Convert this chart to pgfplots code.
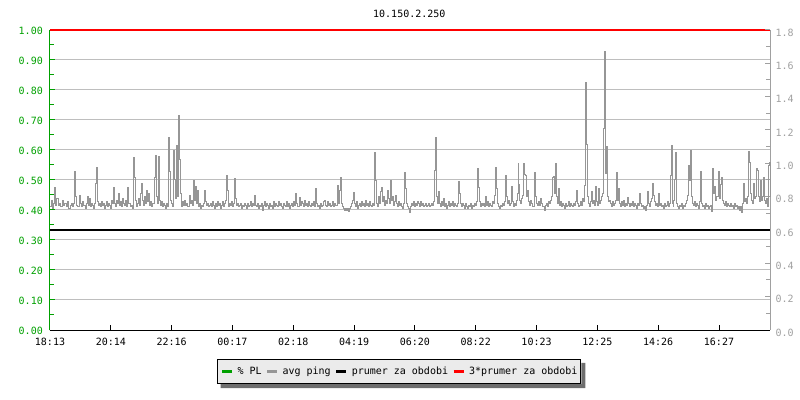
\documentclass[border=0pt]{standalone}
\usepackage{fontspec}
\setmainfont{DejaVu Sans Mono}
\usepackage{pgfplots}
\pgfplotsset{compat=1.18}

\definecolor{plgreen}{HTML}{00A000}
\definecolor{pinggray}{HTML}{969696}
\definecolor{gridgray}{HTML}{BEBEBE}
\definecolor{rightgray}{HTML}{A0A0A0}
\definecolor{legendbg}{HTML}{EBEBEB}
\definecolor{shadowgray}{HTML}{6E6E6E}
\definecolor{limitred}{HTML}{FF0000}

\pgfplotsset{
  rrd/.style={
    scale only axis, width=720bp, height=300bp,
    at={(0,0)}, anchor=south west,
    xmin=0, xmax=1440,
    tick align=inside,
    major tick length=5bp, minor tick length=4bp,
    /pgf/number format/assume math mode=true,
    ticklabel style={font=\fontsize{10bp}{12bp}\selectfont, inner sep=0pt},
  }
}

\begin{document}
\begin{tikzpicture}
% left axis: % PL, grid, time axis, 3*average line (1.0 here = 1.8 on the right axis)
\begin{axis}[rrd,
  ymin=0, ymax=1,
  clip=false,
  axis x line*=bottom, axis y line*=left,
  x axis line style={black, line width=1bp},
  y axis line style={plgreen, line width=1bp},
  xtick={0,121.64,243.27,364.91,486.55,608.18,729.82,851.45,973.09,1094.73,1216.36,1338},
  xticklabels={18:13,20:14,22:16,00:17,02:18,04:19,06:20,08:22,10:23,12:25,14:26,16:27},
  xtick style={black, line width=1bp},
  xticklabel style={anchor=north, yshift=-7.5bp},
  ytick={0,0.1,0.2,0.3,0.4,0.5,0.6,0.7,0.8,0.9,1},
  minor y tick num=1,
  ytick style={plgreen, line width=1bp},
  yticklabel style={plgreen, anchor=east, xshift=-7bp, yshift=-1.3bp,
    /pgf/number format/fixed, /pgf/number format/fixed zerofill,
    /pgf/number format/precision=2},
  ymajorgrids, major grid style={gridgray, line width=1bp},
]
\addplot[plgreen, line width=0.8bp] coordinates {(0,0) (1440,0)};
\addplot[limitred, line width=1.2bp] coordinates {(0,1) (720,1) (1440,1)};
\end{axis}

% right axis: ping
\begin{axis}[rrd,
  ymin=0, ymax=1.8,
  axis x line*=bottom, axis y line*=right,
  xtick=\empty,
  x axis line style={black, line width=1bp},
  y axis line style={rightgray, line width=1bp},
  ytick={0,0.2,0.4,0.6,0.8,1.0,1.2,1.4,1.6,1.8},
  minor y tick num=1,
  ytick style={rightgray, line width=1bp},
  yticklabel style={rightgray, anchor=west, xshift=5.5bp, yshift=-2.5bp,
    /pgf/number format/fixed, /pgf/number format/fixed zerofill,
    /pgf/number format/precision=1},
  clip=false,
  legend columns=4,
  legend image code/.code={\draw[#1, line width=3bp] (0bp,0bp) -- (10bp,0bp);},
  legend style={at={(0.4847,-0.1383)}, anchor=center, name=leg,
    draw=black, line width=1bp, fill=legendbg,
    font=\fontsize{10bp}{12bp}\selectfont,
    inner xsep=3bp, inner ysep=7bp,
    nodes={inner sep=0pt},
    /tikz/every odd column/.append style={column sep=4bp},
    /tikz/every even column/.append style={column sep=4bp}},
  legend cell align=left,
]
\addlegendimage{plgreen}
\addlegendentry{\% PL}
\addplot[pinggray, line width=0.9bp, const plot] coordinates {
(0,0.74) (2,0.78) (4,0.73) (6,0.76) (8.6,0.858) (10,0.75) (12,0.79) (16,0.75) (18,0.76) (20,0.74) (24,0.78) (26,0.75) (28,0.76) (32,0.74) (34,0.77) (36,0.73) (40,0.75) (42,0.76) (44,0.74) (46,0.76) (48.6,0.95) (50,0.80) (52,0.75) (54,0.74) (58,0.81) (60,0.76) (62,0.74) (64,0.77) (66,0.75) (70,0.73) (72,0.76) (74,0.80) (76,0.75) (78,0.79) (80,0.74) (82,0.76) (84,0.75) (86,0.73) (88,0.76) (90.6,0.882) (92,0.978) (94,0.77) (96,0.75) (98,0.76) (100,0.74) (102,0.77) (104,0.75) (106,0.76) (108,0.73) (110,0.75) (112,0.77) (114,0.74) (116,0.76) (118,0.75) (120,0.73) (122,0.78) (124,0.76) (126.6,0.854) (128,0.76) (130,0.74) (132,0.78) (134,0.76) (136,0.82) (138,0.75) (140,0.77) (142,0.74) (144,0.79) (146,0.76) (148,0.75) (150,0.78) (152,0.74) (155.4,0.854) (157,0.76) (160,0.74) (162,0.75) (164,0.73) (166.6,1.034) (168.6,0.918) (170,0.78) (172,0.74) (174,0.76) (176,0.79) (178,0.75) (180,0.82) (183.4,0.882) (185,0.78) (187,0.75) (189,0.80) (191,0.76) (193.4,0.84) (195,0.77) (197,0.82) (199,0.75) (201,0.77) (203,0.74) (205,0.76) (208.6,0.914) (210,1.05) (212,0.80) (214,0.76) (216.6,1.04) (218,0.78) (220,0.75) (222,0.77) (224,0.74) (226,0.76) (228,0.75) (230,0.73) (232,0.76) (234,0.74) (236.6,1.158) (238,0.954) (240,0.78) (242,0.76) (244,0.74) (246.6,1.08) (248.6,0.906) (250,0.79) (252.6,1.11) (254,0.80) (256.6,1.29) (258.6,1.024) (260,0.82) (262,0.74) (264,0.77) (266,0.75) (268,0.78) (270,0.75) (272,0.76) (274,0.74) (278,0.81) (280,0.76) (282,0.78) (284,0.75) (286.6,0.90) (288,0.78)
(290,0.86) (292,0.76) (294,0.84) (296,0.74) (298,0.76) (300,0.73) (302,0.75) (304,0.74) (306,0.76) (308.6,0.84) (310,0.77) (312,0.75) (314,0.76) (316,0.74) (318,0.75) (320,0.76) (322,0.74) (324,0.77) (326,0.75) (328,0.73) (330,0.76) (332,0.74) (334,0.77) (336,0.75) (338,0.76) (340,0.73) (342,0.75) (344,0.77) (346,0.74) (348,0.76) (350,0.78) (352.6,0.93) (354.6,0.835) (356,0.74) (358,0.76) (360,0.75) (362,0.77) (364,0.74) (366,0.76) (368.6,0.91) (370,0.79) (372,0.75) (374,0.76) (376,0.74) (378,0.75) (380,0.76) (382,0.73) (384,0.75) (386,0.74) (388,0.76) (390,0.75) (392,0.73) (394,0.76) (396,0.74) (398,0.75) (400,0.77) (402,0.74) (404,0.76) (406,0.75) (408.6,0.81) (410,0.75) (412,0.74) (414,0.76) (416,0.73) (418,0.75) (420,0.74) (422,0.76) (424,0.72) (426,0.75) (428,0.77) (430,0.74) (432,0.76) (434,0.75) (436,0.73) (438,0.76) (440,0.74) (442,0.75) (444,0.73) (446,0.77) (448,0.74) (450,0.76) (452,0.75) (454,0.74) (456,0.77) (458,0.75) (460,0.76) (462,0.74) (464,0.73) (466,0.76) (468,0.75) (470,0.74) (472,0.77) (474,0.74) (476,0.76) (478,0.73) (480,0.75) (482,0.76) (484,0.74) (486,0.77) (488,0.75) (491.4,0.82) (493,0.76) (495,0.74) (498.6,0.794) (500,0.75) (502,0.77) (504,0.76) (506,0.74) (508,0.78) (510,0.75) (512,0.76) (514,0.74) (516,0.77) (518,0.75) (520,0.74) (522,0.76) (524,0.75) (526,0.77) (528,0.74) (530.6,0.852) (532,0.76) (534,0.74) (536,0.75) (538,0.73) (540,0.76) (542,0.74) (544,0.75) (546,0.77) (549.4,0.78) (551,0.75) (553,0.74) (555,0.77) (557,0.75) (559,0.76) (561,0.74) (563,0.75) (565,0.77) (567,0.74) (569,0.76) (571,0.75) (574.6,0.87) (576,0.76)
(578,0.78) (579.4,0.836) (580.6,0.918) (582,0.76) (584,0.74) (586,0.73) (588,0.72) (590,0.73) (592,0.72) (594,0.73) (596,0.71) (598,0.73) (600,0.74) (602,0.76) (604,0.78) (606.6,0.828) (608,0.76) (610,0.74) (612,0.77) (614,0.73) (616,0.75) (618,0.76) (620,0.74) (622,0.77) (624,0.75) (626,0.76) (628,0.74) (630,0.78) (632,0.75) (634,0.76) (636,0.74) (638,0.77) (640,0.75) (642,0.74) (644,0.76) (646,0.75) (648.6,1.064) (650,0.90) (652,0.76) (654,0.74) (656.6,0.80) (658,0.76) (660,0.83) (662.6,0.856) (664,0.77) (666,0.80) (668,0.75) (670,0.78) (672,0.76) (674.6,0.84) (676,0.79) (678,0.76) (680.6,0.90) (682,0.78) (684.6,0.80) (686,0.75) (688,0.77) (690.6,0.81) (692,0.76) (694,0.74) (696,0.77) (698,0.75) (700,0.76) (702,0.74) (704,0.73) (706,0.76) (708.6,0.944) (710.6,0.848) (712,0.76) (714,0.74) (716,0.73) (718.6,0.704) (720,0.74) (722,0.76) (724,0.75) (726,0.77) (728,0.74) (730,0.76) (732,0.75) (734,0.77) (736,0.76) (738,0.74) (740,0.77) (742,0.75) (744,0.76) (746,0.74) (748,0.75) (750,0.76) (752,0.74) (754,0.75) (756,0.76) (758,0.74) (760,0.75) (762,0.76) (764,0.75) (766,0.77) (768,0.79) (769.4,0.96) (770.6,1.154) (772,0.80) (774,0.76) (776,0.83) (778,0.76) (780,0.74) (782,0.77) (784,0.75) (786.6,0.79) (788,0.74) (790,0.76) (792,0.73) (794,0.75) (796,0.77) (798,0.74) (800,0.76) (802,0.75) (804,0.77) (806,0.74) (808,0.76) (810,0.75) (812,0.74) (814,0.76) (816.6,0.89) (818.6,0.82) (820,0.76) (822,0.74) (824,0.76) (826,0.75) (828,0.73) (830,0.76) (832,0.74) (834,0.73) (836,0.75) (838,0.74) (840,0.76) (842,0.73) (844,0.75) (846,0.74) (848,0.76) (850,0.75) (852,0.77) (854.6,0.972) (856.6,0.856) (858,0.77) (860,0.74) (862,0.76) (864,0.75)
(866,0.76) (868,0.74) (870.6,0.80) (872,0.75) (874,0.77) (876,0.74) (878,0.76) (880,0.75) (882,0.74) (884,0.77) (886,0.76) (888,0.81) (890.6,0.974) (892,0.85) (894,0.76) (896,0.74) (898,0.73) (900,0.75) (902,0.74) (904,0.76) (906,0.75) (908,0.77) (910.6,0.93) (912,0.80) (914,0.76) (916,0.78) (918,0.75) (920,0.76) (922.6,0.86) (924,0.77) (926,0.74) (928,0.76) (930,0.75) (932,0.78) (934,0.82) (936,1.0) (937.4,0.876) (939,0.78) (941,0.76) (943,0.79) (945,0.81) (946.6,1.0) (948.6,0.934) (950.6,0.93) (952,0.80) (955.4,0.84) (957,0.77) (959,0.75) (961,0.78) (963,0.76) (965,0.74) (968.6,0.948) (970,0.80) (972,0.76) (974,0.75) (976,0.77) (978,0.75) (981.4,0.79) (983,0.76) (985,0.74) (988.6,0.716) (990,0.75) (992,0.76) (994,0.74) (996,0.77) (998,0.76) (1000,0.78) (1002,0.80) (1005.4,0.916) (1007.4,0.92) (1008.8,0.82) (1010.6,1.0) (1012,0.80) (1014,0.76) (1017.4,0.85) (1019,0.75) (1021,0.77) (1023,0.74) (1025,0.76) (1027,0.75) (1029,0.73) (1031,0.76) (1033,0.74) (1035,0.75) (1037,0.77) (1039,0.74) (1041,0.76) (1043,0.75) (1045,0.74) (1047,0.76) (1049,0.75) (1051,0.77) (1053.4,0.84) (1055,0.76) (1057,0.74) (1059,0.75) (1061,0.77) (1063,0.75) (1065.4,0.79) (1067,0.77) (1069.4,0.87) (1071.4,1.484) (1072.6,1.116) (1074,0.80) (1076,0.76) (1078,0.74) (1080,0.77) (1082,0.83) (1084,0.76) (1086,0.78) (1088,0.75) (1090.6,0.86) (1092,0.77) (1094,0.75) (1097.4,0.85) (1099,0.76) (1101,0.78) (1103,0.80) (1105,0.82) (1106.6,1.208) (1108.6,1.67) (1110.6,0.94) (1112.6,1.10) (1114,0.80) (1116,0.77) (1118,0.78) (1120,0.76) (1122,0.74) (1124,0.77) (1126,0.75) (1128,0.76) (1130,0.78) (1132.6,0.944) (1134,0.78) (1136,0.85) (1138,0.76) (1140,0.74) (1142,0.77) (1144,0.75) (1146,0.78) (1148,0.74) (1150,0.76) (1152,0.75)
(1154,0.794) (1156,0.76) (1158,0.74) (1160,0.76) (1162,0.75) (1164,0.77) (1166,0.74) (1168,0.76) (1170,0.75) (1172,0.73) (1174,0.76) (1176,0.75) (1178.6,0.822) (1180,0.76) (1182,0.74) (1184,0.75) (1186,0.73) (1188,0.74) (1190,0.72) (1192,0.75) (1194.6,0.83) (1196,0.76) (1198,0.74) (1200,0.77) (1202,0.79) (1204,0.882) (1206.6,0.81) (1208,0.77) (1210,0.75) (1212,0.76) (1214,0.74) (1216,0.822) (1218,0.75) (1220,0.76) (1222,0.74) (1224,0.75) (1226,0.73) (1228,0.76) (1230,0.74) (1232,0.75) (1234,0.77) (1236,0.74) (1238,0.76) (1240.6,0.93) (1242.6,1.11) (1244,0.76) (1246,0.74) (1247.6,0.78) (1249.4,0.906) (1251.4,1.066) (1253,0.76) (1255,0.74) (1257,0.73) (1259,0.75) (1261,0.74) (1263,0.76) (1265,0.73) (1267,0.75) (1269,0.74) (1271,0.76) (1273,0.78) (1274.6,0.81) (1276.6,0.99) (1278.6,0.90) (1280.6,1.08) (1282,0.80) (1284,0.76) (1286,0.75) (1288,0.77) (1290,0.74) (1292,0.76) (1294,0.75) (1296,0.73) (1298,0.77) (1300.6,0.95) (1302,0.76) (1304,0.74) (1306,0.75) (1308,0.73) (1310,0.76) (1312,0.74) (1314,0.75) (1316,0.73) (1318,0.74) (1320,0.75) (1322,0.71) (1324,0.97) (1326,0.88) (1327.6,0.82) (1329.4,0.86) (1331,0.78) (1333,0.80) (1336,0.95) (1338,0.79) (1340,0.876) (1342,0.916) (1344,0.78) (1346,0.76) (1348,0.75) (1350,0.77) (1352,0.74) (1354,0.76) (1356,0.75) (1358,0.74) (1360,0.76) (1362,0.74) (1364,0.75) (1366,0.73) (1368,0.76) (1370,0.74) (1372,0.75) (1374,0.73) (1376,0.74) (1378,0.72) (1380,0.74) (1382.6,0.704) (1384,0.76) (1386.6,0.882) (1388,0.77) (1390,0.79) (1392,0.76) (1394,0.80) (1396.6,1.07) (1398.6,1.006) (1400,0.82) (1402,0.78) (1404,0.76) (1406.6,0.882) (1408,0.79) (1410,0.80) (1412.6,0.97) (1414.6,0.956) (1416,0.80) (1418,0.77) (1420.6,0.90) (1422,0.78) (1424,0.80) (1426.6,0.916) (1428,0.78) (1430,0.76) (1432,0.79) (1434,0.74) (1436,0.80) (1437.4,0.99) (1439.4,1.006) (1440,0.80)
};
\addlegendentry{avg ping}
\addplot[black, line width=2bp] coordinates {(0,0.6) (1440,0.6)};
\addlegendentry{prumer za obdobi}
\addlegendimage{limitred}
\addlegendentry{3*prumer za obdobi}
\end{axis}

% legend drop shadow (right and bottom strips only)
\fill[shadowgray] ([shift={(3.5bp,-0.5bp)}]leg.south west) -- ([shift={(3.5bp,-4.5bp)}]leg.south west)
  -- ([shift={(4.5bp,-4.5bp)}]leg.south east) -- ([shift={(4.5bp,-3.5bp)}]leg.north east)
  -- ([shift={(0.5bp,-3.5bp)}]leg.north east) -- ([shift={(0.5bp,-0.5bp)}]leg.south east) -- cycle;

\node[font=\fontsize{10bp}{12bp}\selectfont, inner sep=0pt] at (359.3bp,316.3bp) {10.150.2.250};

\pgfresetboundingbox
\useasboundingbox (-50bp,-70bp) rectangle (750bp,330bp);
\end{tikzpicture}
\end{document}
